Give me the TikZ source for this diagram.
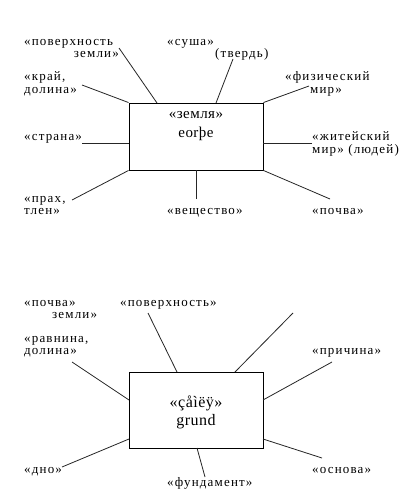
\documentclass[tikz,border=0pt]{standalone}
\usepackage{fontspec}
\setmainfont{Liberation Serif}
\newfontfamily\labfont{Liberation Serif}[LetterSpace=9]
\newfontfamily\boxfont{Liberation Serif}[LetterSpace=3]
\begin{document}
\begin{tikzpicture}[x=1pt,y=-1pt,
  lab/.style={inner sep=0pt, font=\labfont\fontsize{13}{15}\selectfont},
  boxtxt/.style={inner sep=0pt, anchor=base, font=\boxfont\fontsize{15}{17}\selectfont},
  cbox/.style={draw=black, line width=0.9pt, minimum width=134pt, minimum height=67pt, inner sep=0pt},
  conn/.style={draw=black!85, line width=0.8pt}]
\useasboundingbox (0,0) rectangle (404,503);
\fill[white] (0,0) rectangle (404,503);

% ---------- top diagram ----------
\node[cbox] (box1) at (196,136.5) {};
\node[boxtxt] (t1a) at (196,118) {«земля»};
\node[boxtxt] (t1b) at (196,137) {eorþe};

\node[lab, anchor=base west] (a1) at (24,46) {«поверхность};
\node[lab, anchor=base east] (a2) at (119,58) {земли»};
\node[lab, anchor=base west] (b1) at (24,81) {«край,};
\node[lab, anchor=base west] (b2) at (24,93) {долина»};
\node[lab, anchor=base west] (c1) at (167,46) {«суша»};
\node[lab, anchor=base west] (c2) at (215,57) {(твердь)};
\node[lab, anchor=base west] (d1) at (285,81) {«физический};
\node[lab, anchor=base west] (d2) at (310,93) {мир»};
\node[lab, anchor=base west] (e1) at (24,140) {«страна»};
\node[lab, anchor=base west] (f1) at (312,140) {«житейский};
\node[lab, anchor=base west] (f2) at (312,153) {мир» (людей)};
\node[lab, anchor=base west] (g1) at (24,202) {«прах,};
\node[lab, anchor=base west] (g2) at (24,214) {тлен»};
\node[lab, anchor=base west] (h1) at (167,214) {«вещество»};
\node[lab, anchor=base west] (i1) at (312,214) {«почва»};

\coordinate (pa) at (119,48);   \coordinate (qa) at (157,103);
\coordinate (pb) at (82,85);
\coordinate (pc) at (233,59);   \coordinate (qc) at (216,103);
\coordinate (pd) at (309,86);
\coordinate (pe) at (82,143);   \coordinate (qe) at (129,143);
\coordinate (pf) at (312,143);  \coordinate (qf) at (263,143);
\coordinate (pg) at (72,200);
\coordinate (ph) at (196,199);  \coordinate (qh) at (196,170);
\coordinate (pi) at (330,199);

\draw[conn] (pa) -- (qa);
\draw[conn] (pb) -- (box1.north west);
\draw[conn] (pc) -- (qc);
\draw[conn] (pd) -- (box1.north east);
\draw[conn] (pe) -- (qe);
\draw[conn] (pf) -- (qf);
\draw[conn] (pg) -- (box1.south west);
\draw[conn] (ph) -- (qh);
\draw[conn] (pi) -- (box1.south east);

% ---------- bottom diagram ----------
\node[cbox, minimum height=76pt] (box2) at (196,410) {};
\node[boxtxt, font=\boxfont\fontsize{16}{18}\selectfont] (t2a) at (196,407) {«çåìëÿ»};
\node[boxtxt, font=\boxfont\fontsize{16}{18}\selectfont] (t2b) at (196,425) {grund};

\node[lab, anchor=base west] (k1) at (24,306) {«почва»};
\node[lab, anchor=base west] (k2) at (52,318) {земли»};
\node[lab, anchor=base west] (l1) at (120,306) {«поверхность»};
\node[lab, anchor=base west] (m1) at (24,342) {«равнина,};
\node[lab, anchor=base west] (m2) at (24,354) {долина»};
\node[lab, anchor=base west] (n1) at (312,354) {«причина»};
\node[lab, anchor=base west] (o1) at (24,473) {«дно»};
\node[lab, anchor=base west] (p1) at (167,486) {«фундамент»};
\node[lab, anchor=base west] (r1) at (312,473) {«основа»};

\coordinate (pl) at (148,313);  \coordinate (ql) at (177,372);
\coordinate (ps) at (293,313);  \coordinate (qs) at (235,372);
\coordinate (pm) at (72,362);   \coordinate (qm) at (129,400);
\coordinate (pn) at (332,362);  \coordinate (qn) at (263,400);
\coordinate (po) at (62,467);   \coordinate (qo) at (129,439);
\coordinate (pp) at (205,477);  \coordinate (qp) at (197,448);
\coordinate (pr) at (322,458);  \coordinate (qr) at (263,439);

\draw[conn] (pl) -- (ql);
\draw[conn] (ps) -- (qs);
\draw[conn] (pm) -- (qm);
\draw[conn] (pn) -- (qn);
\draw[conn] (po) -- (qo);
\draw[conn] (pp) -- (qp);
\draw[conn] (pr) -- (qr);
\end{tikzpicture}
\end{document}
